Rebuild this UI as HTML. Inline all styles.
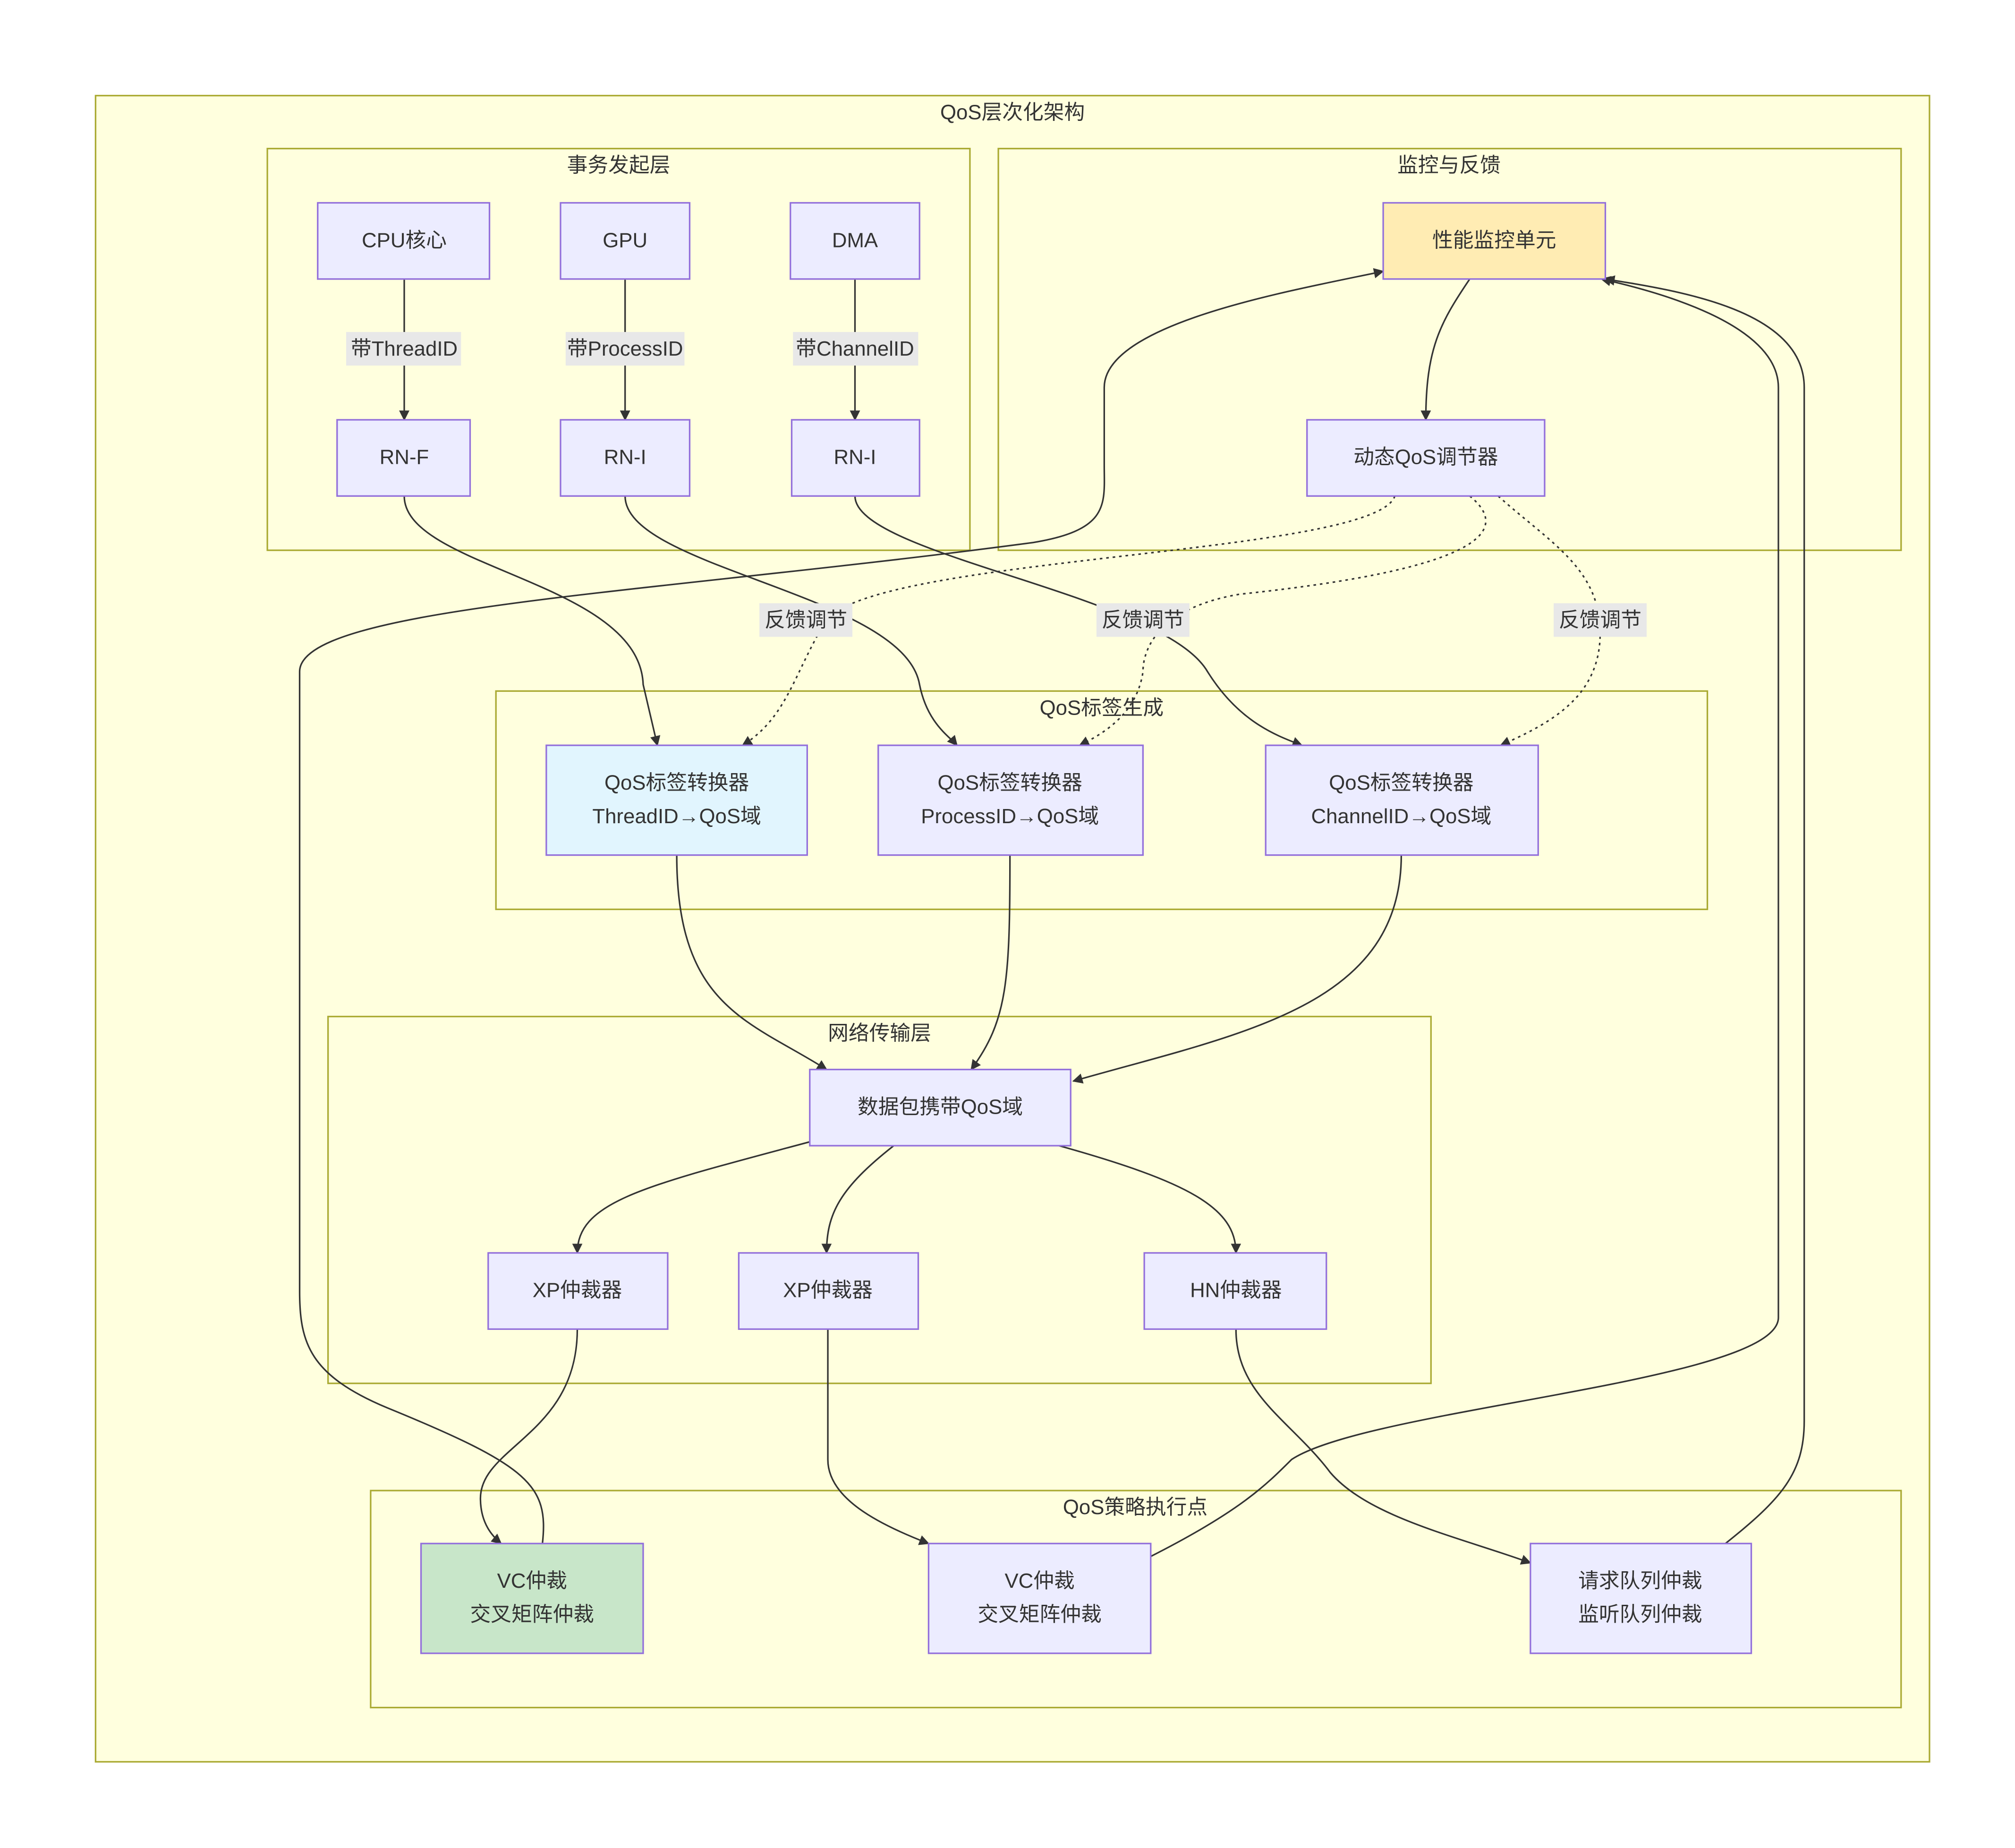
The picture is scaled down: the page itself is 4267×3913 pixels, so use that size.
<!DOCTYPE html>
<html><head><meta charset="utf-8"><style>
html,body{margin:0;padding:0;background:#fff;}
svg{display:block;}
text{font-family:"Liberation Sans","Noto Sans CJK SC",sans-serif;fill:#333;font-size:16px;text-anchor:middle;dominant-baseline:central;}
.cl{fill:#ffffde;stroke:#aaaa33;stroke-width:1.2;}
.nd{fill:#ececff;stroke:#9370db;stroke-width:1.2;}
.e{fill:none;stroke:#333;stroke-width:1.2;}
.d{fill:none;stroke:#333;stroke-width:1.2;stroke-dasharray:2,3;}
.lb{fill:#e8e8e8;}
</style></head><body>
<svg width="4267" height="3913" viewBox="0 0 1560.2 1430.7" xmlns="http://www.w3.org/2000/svg">
<defs><marker id="a" viewBox="0 0 10 10" refX="9" refY="5" markerWidth="8" markerHeight="8" orient="auto-start-reverse" markerUnits="userSpaceOnUse"><path d="M0,0L10,5L0,10z" fill="#333"/></marker></defs>
<rect width="1560.2" height="1430.7" fill="#fff"/>
<rect class="cl" x="74" y="74" width="1420" height="1290"/>
<text x="784" y="87">QoS层次化架构</text>
<rect class="cl" x="207" y="115" width="544" height="311"/>
<text x="479" y="128">事务发起层</text>
<rect class="cl" x="773" y="115" width="699" height="311"/>
<text x="1122" y="128">监控与反馈</text>
<rect class="cl" x="384" y="535" width="938" height="169"/>
<text x="853" y="548">QoS标签生成</text>
<rect class="cl" x="254" y="787" width="854" height="284"/>
<text x="681" y="800">网络传输层</text>
<rect class="cl" x="287" y="1154" width="1185" height="168"/>
<text x="879" y="1167">QoS策略执行点</text>

<!-- edges -->
<path class="e" d="M313,216V325" marker-end="url(#a)"/>
<path class="e" d="M484,216V325" marker-end="url(#a)"/>
<path class="e" d="M662,216V325" marker-end="url(#a)"/>
<path class="e" d="M313,384C313,440 495,450 498,530L509,577" marker-end="url(#a)"/>
<path class="e" d="M484,384C484,440 700,460 712,530C718,560 735,570 741,577" marker-end="url(#a)"/>
<path class="e" d="M662,384C662,430 900,460 935,520C960,560 990,570 1008,577" marker-end="url(#a)"/>
<path class="e" d="M524,662C524,780 580,790 640,828" marker-end="url(#a)"/>
<path class="e" d="M782,662C782,760 780,790 752,828" marker-end="url(#a)"/>
<path class="e" d="M1085,662C1085,780 960,800 831,837" marker-end="url(#a)"/>
<path class="e" d="M627,884C500,918 447,930 447,970" marker-end="url(#a)"/>
<path class="e" d="M692,887C650,920 640,940 640,970" marker-end="url(#a)"/>
<path class="e" d="M820,887C920,915 957,935 957,970" marker-end="url(#a)"/>
<path class="e" d="M447,1029C447,1110 372,1120 372,1160C372,1180 382,1190 388,1195" marker-end="url(#a)"/>
<path class="e" d="M641,1029V1130C641,1160 680,1180 719,1195" marker-end="url(#a)"/>
<path class="e" d="M957,1029C957,1080 1000,1100 1030,1140C1060,1175 1130,1190 1185,1210" marker-end="url(#a)"/>
<path class="e" d="M420,1195C425,1150 410,1135 300,1090C240,1065 232,1040 232,1000V520C232,470 500,460 800,420C860,410 855,390 855,360V300C855,250 1000,225 1071,210" marker-end="url(#a)"/>
<path class="e" d="M891,1205C960,1170 980,1150 1000,1130C1060,1090 1377,1070 1377,1020V300C1377,250 1280,225 1240,216" marker-end="url(#a)"/>
<path class="e" d="M1336,1195C1380,1160 1397,1140 1397,1100V300C1397,240 1300,225 1243,216" marker-end="url(#a)"/>
<path class="e" d="M1138,216C1115,250 1104,270 1104,325" marker-end="url(#a)"/>
<path class="d" d="M1080,384C1065,430 680,430 640,480C615,520 610,555 575,577" marker-end="url(#a)"/>
<path class="d" d="M1138,384C1170,410 1150,440 960,460C900,470 885,500 885,520C880,555 850,570 836,577" marker-end="url(#a)"/>
<path class="d" d="M1160,384C1200,420 1239,440 1239,490C1239,540 1200,560 1162,577" marker-end="url(#a)"/>

<!-- edge labels -->
<rect class="lb" x="268" y="257" width="89" height="26"/><text x="313" y="270">带ThreadID</text>
<rect class="lb" x="438" y="257" width="92" height="26"/><text x="484" y="270">带ProcessID</text>
<rect class="lb" x="614" y="257" width="97" height="26"/><text x="662" y="270">带ChannelID</text>
<rect class="lb" x="588" y="467" width="72" height="26"/><text x="624" y="480">反馈调节</text>
<rect class="lb" x="849" y="467" width="72" height="26"/><text x="885" y="480">反馈调节</text>
<rect class="lb" x="1203" y="467" width="72" height="26"/><text x="1239" y="480">反馈调节</text>

<!-- nodes -->
<rect class="nd" x="246" y="157" width="133" height="59"/><text x="313" y="186">CPU核心</text>
<rect class="nd" x="434" y="157" width="100" height="59"/><text x="484" y="186">GPU</text>
<rect class="nd" x="612" y="157" width="100" height="59"/><text x="662" y="186">DMA</text>
<rect class="nd" x="261" y="325" width="103" height="59"/><text x="313" y="354">RN-F</text>
<rect class="nd" x="434" y="325" width="100" height="59"/><text x="484" y="354">RN-I</text>
<rect class="nd" x="613" y="325" width="99" height="59"/><text x="662" y="354">RN-I</text>
<rect class="nd" x="1071" y="157" width="172" height="59" style="fill:#ffecb3"/><text x="1157" y="186">性能监控单元</text>
<rect class="nd" x="1012" y="325" width="184" height="59"/><text x="1104" y="354">动态QoS调节器</text>
<rect class="nd" x="423" y="577" width="202" height="85" style="fill:#e1f5fe"/><text x="524" y="606">QoS标签转换器</text><text x="524" y="632">ThreadID→QoS域</text>
<rect class="nd" x="680" y="577" width="205" height="85"/><text x="782" y="606">QoS标签转换器</text><text x="782" y="632">ProcessID→QoS域</text>
<rect class="nd" x="980" y="577" width="211" height="85"/><text x="1085" y="606">QoS标签转换器</text><text x="1085" y="632">ChannelID→QoS域</text>
<rect class="nd" x="627" y="828" width="202" height="59"/><text x="728" y="857">数据包携带QoS域</text>
<rect class="nd" x="378" y="970" width="139" height="59"/><text x="447" y="999">XP仲裁器</text>
<rect class="nd" x="572" y="970" width="139" height="59"/><text x="641" y="999">XP仲裁器</text>
<rect class="nd" x="886" y="970" width="141" height="59"/><text x="957" y="999">HN仲裁器</text>
<rect class="nd" x="326" y="1195" width="172" height="85" style="fill:#c8e6c9"/><text x="412" y="1224">VC仲裁</text><text x="412" y="1250">交叉矩阵仲裁</text>
<rect class="nd" x="719" y="1195" width="172" height="85"/><text x="805" y="1224">VC仲裁</text><text x="805" y="1250">交叉矩阵仲裁</text>
<rect class="nd" x="1185" y="1195" width="171" height="85"/><text x="1270" y="1224">请求队列仲裁</text><text x="1270" y="1250">监听队列仲裁</text>
</svg>
</body></html>
